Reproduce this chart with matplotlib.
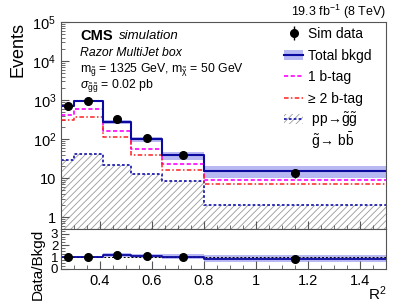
import numpy as np
import matplotlib
matplotlib.use("Agg")
import matplotlib.pyplot as plt
from matplotlib.lines import Line2D
from matplotlib.patches import Patch
from matplotlib.ticker import LogLocator, FixedLocator, AutoMinorLocator, FuncFormatter

plt.rcParams["font.family"] = ["Liberation Sans", "DejaVu Sans"]
plt.rcParams["mathtext.fontset"] = "custom"
plt.rcParams["mathtext.rm"] = "Liberation Sans"
plt.rcParams["mathtext.it"] = "Liberation Sans:italic"
plt.rcParams["mathtext.bf"] = "Liberation Sans:bold"
plt.rcParams["hatch.linewidth"] = 0.6

# R^2 bin edges of the Razor MultiJet box
edges = np.array([0.25, 0.30, 0.41, 0.52, 0.64, 0.80, 1.50])
# values
sim_data = np.array([690, 950, 330, 105, 40, 13.5])
total_bkgd = np.array([700, 940, 275, 98, 38, 15.5])
bkgd_relerr = np.array([0.05, 0.05, 0.12, 0.15, 0.22, 0.35])
one_btag = np.array([420, 590, 165, 57, 23, 9.0])
two_btag = np.array([300, 370, 115, 40, 16, 7.2])
signal = np.array([29, 41, 22, 13, 8.3, 2.0])

centers = 0.5 * (edges[:-1] + edges[1:])
ratio = sim_data / total_bkgd


def stepped(v):
    return np.append(v, v[-1])


fig = plt.figure(figsize=(4.07, 3.06), dpi=100)
ax = fig.add_axes([0.150, 0.252, 0.798, 0.676])
rax = fig.add_axes([0.150, 0.121, 0.798, 0.131], sharex=ax)

ymin = 0.5
# signal, hatched down to the bottom of the frame
ax.fill_between(edges, ymin, stepped(signal), step="post", facecolor="none",
                edgecolor="#999999", hatch="/////", linewidth=0)
ax.step(edges, stepped(signal), where="post", color="#2020b0", ls=(0, (1.5, 1.2)), lw=1.3)

# background band and components
ax.fill_between(edges, stepped(total_bkgd * (1 - bkgd_relerr)),
                stepped(total_bkgd * (1 + bkgd_relerr)), step="post",
                color="#b8b8f2", linewidth=0)
ax.step(edges, stepped(one_btag), where="post", color="#ff00ff", ls=(0, (2.5, 1.5)), lw=1.2)
ax.step(edges, stepped(two_btag), where="post", color="#ff2020", ls=(0, (3, 1.5, 1, 1.5)), lw=1.1)
ax.step(edges, stepped(total_bkgd), where="post", color="#0a0aa0", lw=1.5)
ax.errorbar(centers, sim_data, yerr=np.sqrt(sim_data), fmt="o", color="black",
            ms=5.5, elinewidth=1.0, capsize=0)

ax.set_yscale("log")
ax.set_ylim(ymin, 1e5)
ax.set_xlim(0.25, 1.5)
ax.yaxis.set_major_locator(LogLocator(base=10, numticks=10))
ax.yaxis.set_minor_locator(LogLocator(base=10, subs=np.arange(2, 10), numticks=20))
ax.yaxis.set_major_formatter(FuncFormatter(
    lambda v, p: "1" if v == 1 else ("10" if v == 10 else r"$10^{%d}$" % round(np.log10(v)))))
ax.xaxis.set_minor_locator(AutoMinorLocator(4))
ax.set_ylabel("Events", fontsize=13, loc="top")
ax.tick_params(labelbottom=False)

# ratio panel
rax.fill_between(edges, stepped(ratio * (1 - bkgd_relerr)), stepped(ratio * (1 + bkgd_relerr)),
                 step="post", color="#b8b8f2", linewidth=0)
rax.axhline(1, color="black", ls=(0, (2, 2)), lw=0.7)
rax.step(edges, stepped(ratio), where="post", color="#0a0aa0", lw=1.3)
rax.errorbar(centers, ratio, yerr=ratio / np.sqrt(sim_data), fmt="o", color="black",
             ms=5.5, elinewidth=1.0, capsize=0)
rax.set_ylim(0, 3.4)
rax.yaxis.set_major_locator(FixedLocator([0, 1, 2, 3]))
rax.yaxis.set_minor_locator(AutoMinorLocator(4))
rax.set_xticks([0.4, 0.6, 0.8, 1.0, 1.2, 1.4])
rax.set_xticklabels(["0.4", "0.6", "0.8", "1", "1.2", "1.4"])
rax.set_ylabel("Data/Bkgd", fontsize=11, loc="top")
rax.set_xlabel("R$^{2}$", fontsize=11)
rax.xaxis.set_label_coords(0.975, -0.38)

for a in (ax, rax):
    for s in a.spines.values():
        s.set_color("#555555")
        s.set_linewidth(0.8)
    a.tick_params(which="both", direction="in", color="#555555", top=False, right=False)
    a.tick_params(which="major", length=6, width=0.8, labelsize=10.5)
    a.tick_params(which="minor", length=3, width=0.6)
rax.tick_params(axis="y", labelsize=9.5, pad=2)

# texts
fig.text(386 / 407, 1 - 12 / 306, "19.3 fb$^{-1}$ (8 TeV)", ha="right", va="center", fontsize=9)
fig.text(80 / 407, 1 - 36 / 306, "CMS", fontsize=10.5, fontweight="bold", va="center")
fig.text(119 / 407, 1 - 36 / 306, "simulation", fontsize=9.5, style="italic", va="center")
fig.text(80 / 407, 1 - 53 / 306, "Razor MultiJet box", fontsize=8.8, style="italic", va="center")
fig.text(80 / 407, 1 - 70 / 306,
         r"m$_{\mathrm{\tilde{g}}}$ = 1325 GeV, m$_{\mathrm{\tilde{\chi}}}$ = 50 GeV",
         fontsize=8.8, va="center")
fig.text(80 / 407, 1 - 86 / 306, r"$\sigma_{\mathrm{\tilde{g}\tilde{g}}}$ = 0.02 pb",
         fontsize=8.8, va="center")

handles = [
    ax.containers[0],
    (Patch(facecolor="#b8b8f2"), Line2D([], [], color="#0a0aa0", lw=1.5)),
    Line2D([], [], color="#ff00ff", ls=(0, (2.5, 1.5)), lw=1.2),
    Line2D([], [], color="#ff2020", ls=(0, (3, 1.5, 1, 1.5)), lw=1.1),
]
labels = ["Sim data", "Total bkgd", "1 b-tag", "≥ 2 b-tag"]
leg_opts = dict(loc="upper left", frameon=False, fontsize=10, handlelength=1.4,
                handletextpad=0.3, borderpad=0, borderaxespad=0)
fig.legend(handles, labels, bbox_to_anchor=(284 / 407, 1 - 27 / 306),
           labelspacing=0.55, **leg_opts)

sig_handles = [
    (Patch(facecolor="none", edgecolor="#999999", hatch="/////", lw=0),
     Line2D([], [], color="#2020b0", ls=(0, (1.5, 1.2)), lw=1.3)),
    Line2D([], [], alpha=0),
]
sig_labels = [r" pp→$\mathrm{\tilde{g}\tilde{g}}$", r" $\mathrm{\tilde{g}}$→ b$\mathrm{\bar{b}}$"]
fig.legend(sig_handles, sig_labels, bbox_to_anchor=(284 / 407, 1 - 110 / 306),
           labelspacing=0.15, **leg_opts)

fig.savefig("out.png", dpi=100)
